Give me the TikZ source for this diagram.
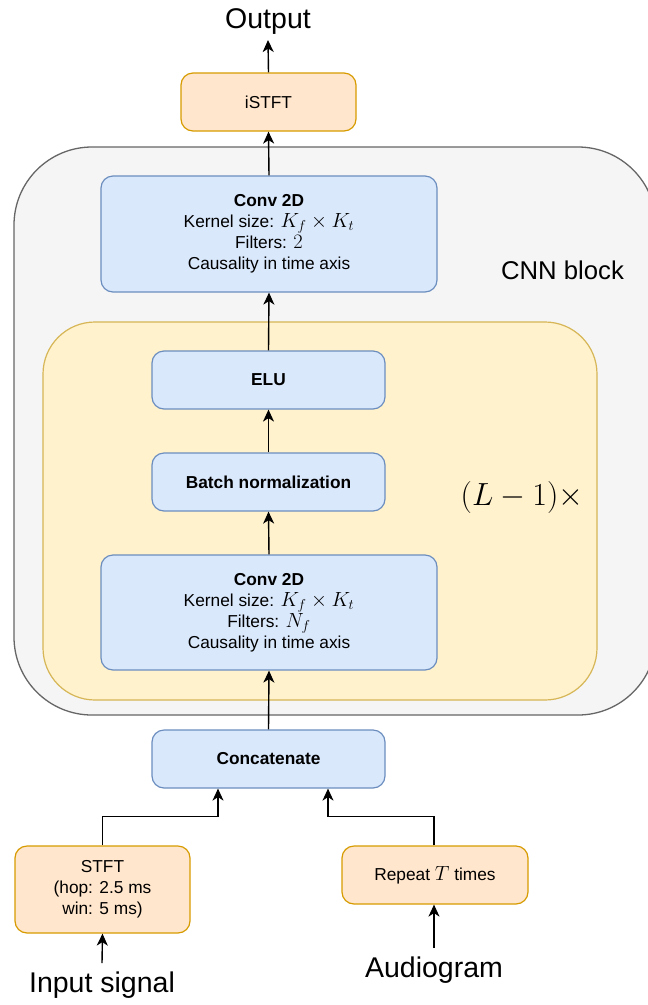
\RequirePackage{fix-cm}
\documentclass[tikz,border=0pt]{standalone}
\usepackage{fontspec}
\setmainfont{Liberation Sans}
\usetikzlibrary{arrows.meta}
\definecolor{bluefill}{HTML}{DAE8FC}
\definecolor{blueline}{HTML}{6C8EBF}
\definecolor{orangefill}{HTML}{FFE6CC}
\definecolor{orangeline}{HTML}{D79B00}
\definecolor{yellowfill}{HTML}{FFF2CC}
\definecolor{yellowline}{HTML}{D6B656}
\definecolor{greyfill}{HTML}{F5F5F5}
\definecolor{greyline}{HTML}{666666}
\newcommand{\mth}[1]{{\fontsize{20.5}{21}\selectfont$#1$}}
\tikzset{
  box/.style={rectangle, rounded corners=12pt, line width=1.2pt, align=center,
    font=\fontsize{17.3}{21}\selectfont, inner sep=0pt},
  bluebox/.style={box, fill=bluefill, draw=blueline},
  orangebox/.style={box, fill=orangefill, draw=orangeline},
  biglabel/.style={font=\fontsize{28.5}{32}\selectfont, inner sep=0pt},
  arr/.style={-{Stealth[length=12pt,width=11pt,inset=3.5pt]}, line width=1.4pt, black},
  ln/.style={line width=1.4pt, black}
}
\begin{document}
\begin{tikzpicture}[x=1pt,y=-1pt]
\useasboundingbox (0,0) rectangle (648,1005);
\begin{scope}
\clip (0,0) rectangle (648,1005);
\draw[fill=greyfill, draw=greyline, line width=1.3pt, rounded corners=78pt]
  (14,147) rectangle (656,715);
\end{scope}
\node[inner sep=0pt, font=\fontsize{25.7}{30}\selectfont] (cnnlabel) at (562.5,270) {CNN block};
\draw[fill=yellowfill, draw=yellowline, line width=1.2pt, rounded corners=52pt]
  (43,322) rectangle (597,700);
\node[inner sep=0pt, font=\fontsize{32}{36}\selectfont] (rep) at (522,497) {$(L-1)\times$};

\node[orangebox, minimum width=175pt, minimum height=58pt] (istft) at (268.5,102) {iSTFT};
\node[bluebox, minimum width=336pt, minimum height=116pt] (convtop) at (269,234)
  {\textbf{Conv 2D}\\Kernel size: \mth{K_f\times K_t}\\Filters: \mth{2}\\Causality in time axis};
\node[bluebox, minimum width=233pt, minimum height=58pt] (elu) at (268.5,380) {\textbf{ELU}};
\node[bluebox, minimum width=233pt, minimum height=58pt] (bn) at (268.5,482) {\textbf{Batch normalization}};
\node[bluebox, minimum width=336pt, minimum height=115pt] (convbot) at (269,612.5)
  {\textbf{Conv 2D}\\Kernel size: \mth{K_f\times K_t}\\Filters: \mth{N_f}\\Causality in time axis};
\node[bluebox, minimum width=233pt, minimum height=58pt] (concat) at (268.5,759) {\textbf{Concatenate}};
\node[orangebox, minimum width=175pt, minimum height=87pt] (stft) at (102.5,889.5)
  {STFT\\(hop: 2.5 ms\\win: 5 ms)};
\node[orangebox, minimum width=186pt, minimum height=58pt] (repeat) at (435,875) {Repeat \mth{T} times};

\node[biglabel] (output) at (268,22) {Output};
\node[biglabel] (input) at (102,985) {Input signal};
\node[biglabel] (audio) at (434,970) {Audiogram};

\coordinate (outend) at (268,40);
\coordinate (inend) at (102,963);
\coordinate (audend) at (434,948);

\draw[arr] (istft.north) -- (outend);
\draw[arr] (convtop.north) -- (istft.south);
\draw[arr] (elu.north) -- (convtop.south);
\draw[arr] (bn.north) -- (elu.south);
\draw[arr] (convbot.north) -- (bn.south);
\draw[arr] (concat.north) -- (convbot.south);
\draw[arr] (inend) -- (stft.south);
\draw[arr] (audend) -- (repeat.south-|audend);
\draw[arr] (stft.north) -- ++(0,-29) -| ([xshift=-50.5pt]concat.south);
\draw[arr] (repeat.north-|audend) -- ++(0,-29) -| ([xshift=59.5pt]concat.south);
\end{tikzpicture}
\end{document}
